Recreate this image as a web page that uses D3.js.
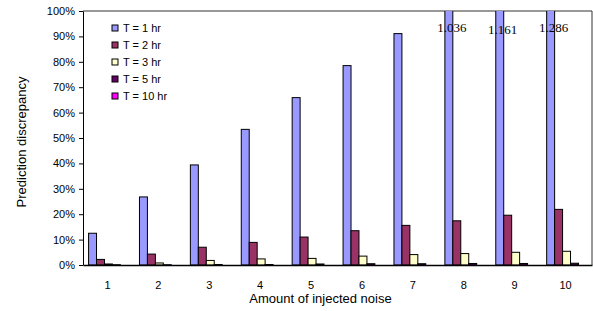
<!DOCTYPE html>
<html>
<head>
<meta charset="utf-8">
<style>
body { margin: 0; background: #fff; }
text { font-family: Arial, "Liberation Sans", sans-serif; fill: #000; }
.axis path, .axis line { stroke: #000; }
</style>
</head>
<body>
<script src="https://cdn.jsdelivr.net/npm/d3@7"></script>
<script>

var noise = [1, 2, 3, 4, 5, 6, 7, 8, 9, 10];
var seriesNames = ["T = 1 hr", "T = 2 hr", "T = 3 hr", "T = 5 hr", "T = 10 hr"];
var t1 = [0.125, 0.268, 0.394, 0.534, 0.659, 0.785, 0.911, 1.036, 1.161, 1.286];
var t2 = [0.022, 0.043, 0.070, 0.089, 0.110, 0.135, 0.156, 0.174, 0.196, 0.219];
var t3 = [0.004, 0.008, 0.018, 0.024, 0.026, 0.035, 0.041, 0.045, 0.050, 0.054];
var t5 = [0.001, 0.001, 0.002, 0.002, 0.004, 0.005, 0.005, 0.006, 0.006, 0.007];
var t10 = [0, 0, 0, 0, 0, 0, 0, 0, 0, 0];
var yTicks = [0, 0.1, 0.2, 0.3, 0.4, 0.5, 0.6, 0.7, 0.8, 0.9, 1.0];
var colors = ["#9999ff", "#993366", "#ffffcc", "#660066", "#ff00ff"];

var series = [t1, t2, t3, t5, t10];

var width = 593, height = 311;
var margin = {top: 11, right: 1, bottom: 46, left: 83};
var w = width - margin.left - margin.right,
    h = height - margin.top - margin.bottom;

var svg = d3.select("body").append("svg")
    .attr("width", width)
    .attr("height", height);

var g = svg.append("g")
    .attr("transform", "translate(" + margin.left + "," + margin.top + ")");

var x = d3.scaleBand().domain(noise).range([0, w]).paddingInner(0).paddingOuter(0);
var x1 = d3.scaleBand().domain(d3.range(series.length))
    .range([0, x.bandwidth()]).paddingOuter(0.7).paddingInner(0);
var y = d3.scaleLinear().domain([0, 1]).range([h, 0]);

g.append("clipPath").attr("id", "clip")
  .append("rect").attr("x", 0).attr("y", 0).attr("width", w).attr("height", h);

// plot frame (top and right)
g.append("path")
    .attr("d", "M0,0H" + w + "V" + h)
    .attr("fill", "none")
    .attr("stroke", "#333")
    .attr("stroke-width", 1);

var bars = g.append("g").attr("clip-path", "url(#clip)");
series.forEach(function(vals, si) {
  bars.selectAll(".s" + si)
      .data(vals)
      .enter().append("rect")
      .attr("x", function(d, i) { return x(noise[i]) + x1(si); })
      .attr("y", function(d) { return y(d); })
      .attr("width", x1.bandwidth())
      .attr("height", function(d) { return h - y(d); })
      .attr("fill", colors[si])
      .attr("stroke", "#000")
      .attr("stroke-width", 1);
});

// values above 100%
var over = t1.map(function(v, i) { return {v: v, i: i}; }).filter(function(d) { return d.v > 1; });
g.selectAll(".over")
    .data(over)
    .enter().append("text")
    .attr("x", function(d) { return x(noise[d.i]) + x1(0) + x1.bandwidth() / 2 + 3; })
    .attr("y", function(d, k) { return k == 1 ? 23 : 21; })
    .attr("text-anchor", "middle")
    .style("font-family", "'Liberation Serif', 'Times New Roman', serif")
    .style("font-size", "13px")
    .text(function(d) { return d.v.toFixed(3); });

// axes
var yAxis = g.append("g").attr("class", "axis")
    .call(d3.axisLeft(y).tickValues(yTicks).tickFormat(d3.format(".0%")).tickSize(4).tickSizeOuter(0));
yAxis.selectAll("text").style("font-size", "11px").attr("dx", "-1");

var xAxis = g.append("g").attr("class", "axis")
    .attr("transform", "translate(0," + h + ")")
    .call(d3.axisBottom(x).tickSize(0).tickSizeOuter(0));
xAxis.selectAll("text").style("font-size", "11px").attr("dy", "1.9em").attr("dx", "-1");
xAxis.select(".domain").attr("stroke-width", 1.5);

// titles
svg.append("text")
    .attr("x", margin.left + w / 2 - 17)
    .attr("y", 303)
    .attr("text-anchor", "middle")
    .style("font-size", "13px")
    .text("Amount of injected noise");

svg.append("text")
    .attr("transform", "translate(26," + (margin.top + h / 2 + 4) + ") rotate(-90)")
    .attr("text-anchor", "middle")
    .style("font-size", "13px")
    .text("Prediction discrepancy");

// legend
var legend = svg.append("g").attr("transform", "translate(112,25)");
var item = legend.selectAll("g")
    .data(seriesNames)
    .enter().append("g")
    .attr("transform", function(d, i) { return "translate(0," + i * 17 + ")"; });
item.append("rect")
    .attr("width", 6).attr("height", 6)
    .attr("fill", function(d, i) { return colors[i]; })
    .attr("stroke", "#000");
item.append("text")
    .attr("x", 11).attr("y", 7)
    .style("font-size", "11px")
    .text(function(d) { return d; });

</script>
</body>
</html>
